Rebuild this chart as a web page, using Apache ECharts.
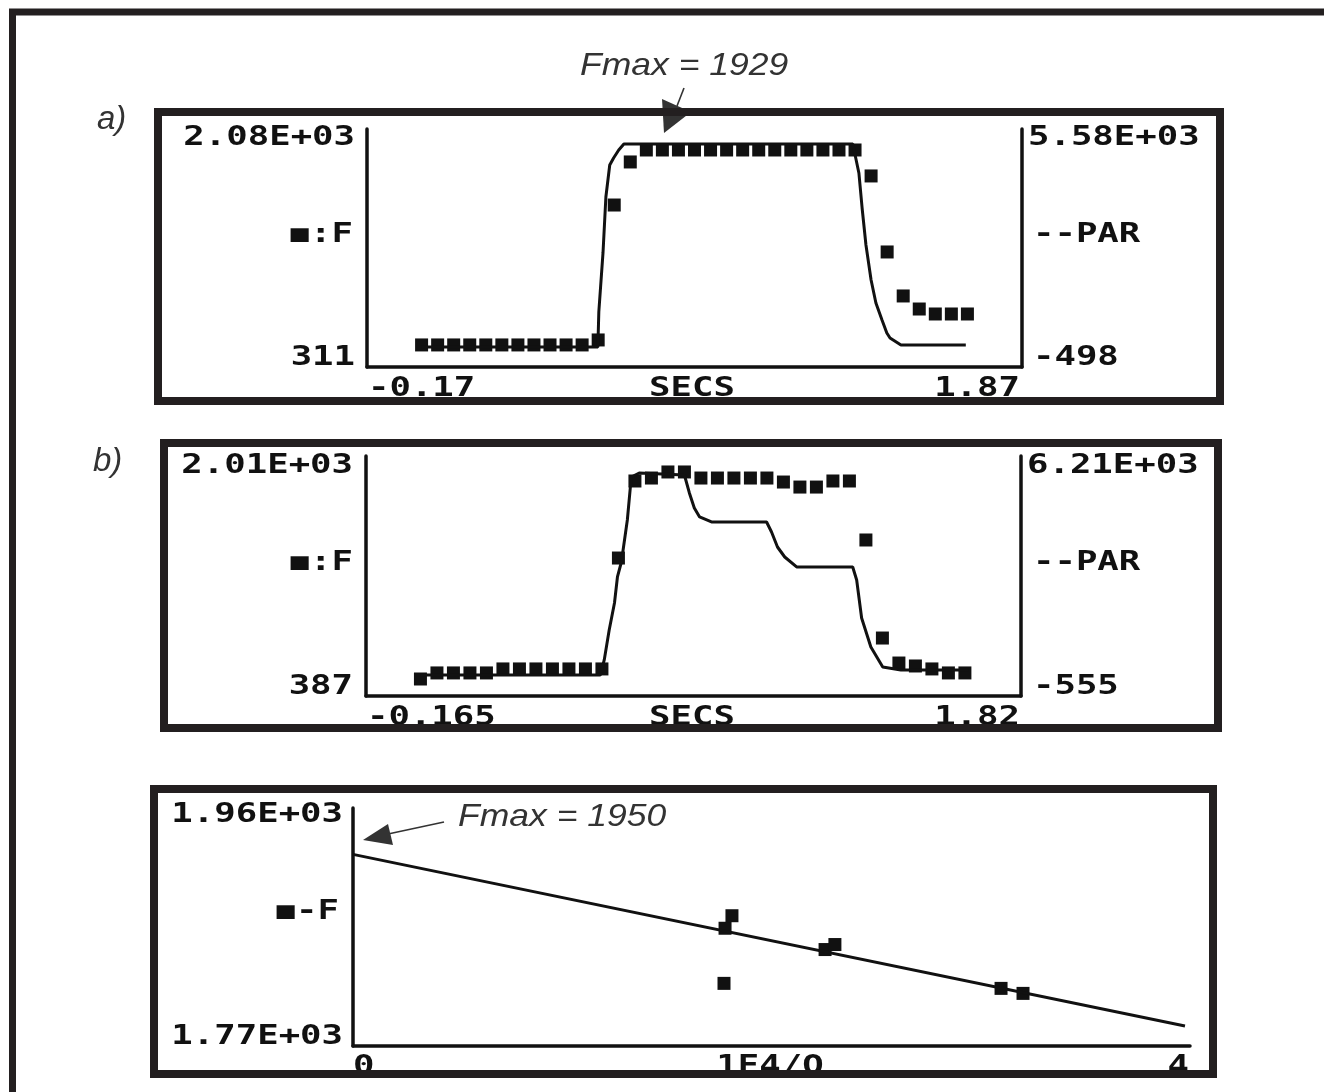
<!DOCTYPE html>
<html>
<head>
<meta charset="utf-8">
<script src="https://cdn.jsdelivr.net/npm/echarts@6/dist/echarts.min.js"></script>
<style>
  html, body { margin: 0; padding: 0; background: #fff; }
  #chart { width: 1324px; height: 1092px; }
</style>
</head>
<body>
<div id="chart"></div>
<script>
// a) F samples (squares) and PAR trace (line), time in seconds
const aTimes = [0, 0.05, 0.1, 0.15, 0.2, 0.25, 0.3, 0.35, 0.4, 0.45, 0.5, 0.55, 0.6, 0.65,
  0.7, 0.75, 0.8, 0.85, 0.9, 0.95, 1.0, 1.05, 1.1, 1.15, 1.2, 1.25, 1.3, 1.35,
  1.4, 1.45, 1.5, 1.55, 1.6, 1.65, 1.7];
const aF = [475, 475, 475, 475, 475, 475, 475, 475, 475, 475, 475, 512, 1515, 1835,
  1924, 1924, 1924, 1924, 1924, 1924, 1924, 1924, 1924, 1924, 1924, 1924, 1924, 1924,
  1731, 1166, 839, 742, 705, 705, 705];
const aParTimes = [0, 0.549, 0.552, 0.565, 0.574, 0.586, 0.598, 0.614, 0.63, 1.343, 1.362,
  1.372, 1.384, 1.4, 1.415, 1.434, 1.449, 1.459, 1.493, 1.695];
const aPar = [13, 13, 907, 2414, 3844, 4661, 4840, 5044, 5197, 5197, 4457,
  3563, 2618, 1724, 1137, 702, 370, 243, 64, 64];
const aXRange = [-0.17, 1.87];
const aFRange = [311, 2080];
const aParRange = [-498, 5580];
const aXLabels = ["-0.17", "SECS", "1.87"];
const aLeftLabels = ["2.08E+03", "\u25A0:F", "311"];
const aRightLabels = ["5.58E+03", "--PAR", "-498"];

// b)
const bTimes = [0, 0.05, 0.1, 0.15, 0.2, 0.25, 0.3, 0.35, 0.4, 0.45, 0.5, 0.55, 0.6, 0.65,
  0.7, 0.75, 0.8, 0.85, 0.9, 0.95, 1.0, 1.05, 1.1, 1.15, 1.2, 1.25, 1.3, 1.35,
  1.4, 1.45, 1.5, 1.55, 1.6, 1.65];
const bF = [502, 543, 543, 543, 543, 570, 570, 570, 570, 570, 570, 570, 1320, 1841,
  1861, 1902, 1902, 1861, 1861, 1861, 1861, 1861, 1834, 1800, 1800, 1841, 1841, 1442,
  779, 610, 590, 570, 543, 543];
const bParTimes = [0, 0.545, 0.557, 0.572, 0.588, 0.597, 0.609, 0.627, 0.639, 0.663, 0.8,
  0.815, 0.83, 0.846, 0.882, 1.049, 1.064, 1.082, 1.104, 1.14, 1.31, 1.322, 1.337,
  1.365, 1.401, 1.456, 1.66];
const bPar = [37, 37, 460, 1306, 2067, 2800, 3222, 4406, 5619, 5731, 5675,
  5168, 4745, 4491, 4350, 4350, 4068, 3645, 3363, 3082, 3082, 2715, 1644,
  826, 263, 178, 178];
const bXRange = [-0.165, 1.82];
const bFRange = [387, 2010];
const bParRange = [-555, 6210];
const bXLabels = ["-0.165", "SECS", "1.82"];
const bLeftLabels = ["2.01E+03", "\u25A0:F", "387"];
const bRightLabels = ["6.21E+03", "--PAR", "-555"];

// c) F against 1E4/Q with the fitted line
const cQ = [1.778, 1.811, 1.773, 2.256, 2.303, 3.097, 3.202];
const cF = [1864, 1874, 1820, 1847, 1851, 1816, 1812];
const cFitQ = [0, 3.976];
const cFitF = [1923, 1786];
const cXRange = [0, 4];
const cFRange = [1770, 1960];
const cXLabels = ["0", "1E4/Q", "4"];
const cLeftLabels = ["1.96E+03", "\u25A0-F", "1.77E+03"];

const notes = ["a)", "b)", "Fmax = 1929", "Fmax = 1950"];

const ink = "#111";
const frame = "#231f20";
const noteInk = "#333";

const zip = (xs, ys) => xs.map((x, i) => [x, ys[i]]);

const chart = echarts.init(document.getElementById("chart"), null, { renderer: "canvas" });

const axisBase = (min, max, extra) =>
  Object.assign(
    {
      type: "value",
      min: min,
      max: max,
      axisLine: { show: true, onZero: false, lineStyle: { color: ink, width: 3.5 } },
      axisTick: { show: false },
      axisLabel: { show: false },
      splitLine: { show: false },
    },
    extra || {}
  );

// pixel-display text; the legend square is set a bit smaller like on the instrument
const lcd = (text, x, y, align) => ({
  type: "text",
  x: x,
  y: y,
  scaleX: 1.32,
  z: 50,
  style: {
    text: text.replace("\u25A0", "{s|\u25A0}"),
    fill: ink,
    fontFamily: "DejaVu Sans Mono",
    fontWeight: "bold",
    fontSize: 27,
    align: align,
    verticalAlign: "middle",
    rich: {
      s: { fontFamily: "DejaVu Sans Mono", fontSize: 23, fill: ink, padding: [0, 1, 0, 0] },
    },
  },
});

const note = (text, x, y, size, sx) => ({
  type: "text",
  x: x,
  y: y,
  scaleX: sx,
  z: 60,
  style: {
    text: text,
    fill: noteInk,
    fontFamily: "Liberation Sans",
    fontStyle: "italic",
    fontSize: size,
    align: "left",
    verticalAlign: "middle",
  },
});

const box = (x, y, w, h, lw) => ({
  type: "rect",
  z: 100,
  shape: { x: x, y: y, width: w, height: h },
  style: { fill: null, stroke: frame, lineWidth: lw },
});

const arrow = (x1, y1, x2, y2, tip) => [
  {
    type: "line",
    z: 60,
    shape: { x1: x1, y1: y1, x2: x2, y2: y2 },
    style: { stroke: noteInk, lineWidth: 1.6 },
  },
  {
    type: "polygon",
    z: 60,
    shape: { points: tip },
    style: { fill: noteInk },
  },
];

const graphic = [
  box(12.5, 12, 1400, 1200, 7),
  box(158, 112, 1062, 289, 8),
  box(164, 443, 1054, 285, 8),
  box(154, 789, 1059, 285, 8),

  lcd(aLeftLabels[0], 355, 138, "right"),
  lcd(aLeftLabels[1], 353, 235, "right"),
  lcd(aLeftLabels[2], 355, 358, "right"),
  lcd(aRightLabels[0], 1028, 138, "left"),
  lcd(aRightLabels[1], 1033, 235, "left"),
  lcd(aRightLabels[2], 1033, 358, "left"),
  lcd(aXLabels[0], 368, 389, "left"),
  lcd(aXLabels[1], 692, 389, "center"),
  lcd(aXLabels[2], 1020, 389, "right"),

  lcd(bLeftLabels[0], 353, 466, "right"),
  lcd(bLeftLabels[1], 353, 563, "right"),
  lcd(bLeftLabels[2], 353, 687, "right"),
  lcd(bRightLabels[0], 1027, 466, "left"),
  lcd(bRightLabels[1], 1033, 563, "left"),
  lcd(bRightLabels[2], 1033, 687, "left"),
  lcd(bXLabels[0], 367, 718, "left"),
  lcd(bXLabels[1], 692, 718, "center"),
  lcd(bXLabels[2], 1020, 718, "right"),

  lcd(cLeftLabels[0], 343, 815, "right"),
  lcd(cLeftLabels[1], 339, 912, "right"),
  lcd(cLeftLabels[2], 343, 1037, "right"),
  lcd(cXLabels[0], 353, 1067, "left"),
  lcd(cXLabels[1], 770, 1067, "center"),
  lcd(cXLabels[2], 1189, 1067, "right"),

  note(notes[0], 97, 120, 33, 1),
  note(notes[1], 93, 462, 33, 1),
  note(notes[2], 580, 66, 32, 1.11),
  note(notes[3], 458, 817, 32, 1.11),
]
  .concat(arrow(684, 88, 677, 106, [[664, 133], [691, 112], [662, 99]]))
  .concat(arrow(444, 822, 388, 834, [[363, 840], [393, 845], [388, 824]]));

const squares = { symbol: "rect", symbolSize: 13, itemStyle: { color: ink, opacity: 1 } };
const trace = { showSymbol: false, lineStyle: { color: ink, width: 3 }, animation: false };

const option = {
  animation: false,
  backgroundColor: "#fff",
  grid: [
    { left: 367, top: 129, width: 655, height: 238 },
    { left: 366, top: 456, width: 655, height: 240 },
    { left: 353, top: 808, width: 837, height: 238 },
  ],
  xAxis: [
    axisBase(aXRange[0], aXRange[1], { gridIndex: 0 }),
    axisBase(bXRange[0], bXRange[1], { gridIndex: 1 }),
    axisBase(cXRange[0], cXRange[1], { gridIndex: 2 }),
  ],
  yAxis: [
    axisBase(aFRange[0], aFRange[1], { gridIndex: 0, position: "left" }),
    axisBase(aParRange[0], aParRange[1], { gridIndex: 0, position: "right" }),
    axisBase(bFRange[0], bFRange[1], { gridIndex: 1, position: "left" }),
    axisBase(bParRange[0], bParRange[1], { gridIndex: 1, position: "right" }),
    axisBase(cFRange[0], cFRange[1], { gridIndex: 2, position: "left" }),
  ],
  graphic: graphic,
  series: [
    Object.assign({ name: "PAR a", type: "line", xAxisIndex: 0, yAxisIndex: 1, data: zip(aParTimes, aPar) }, trace),
    Object.assign({ name: "F a", type: "scatter", xAxisIndex: 0, yAxisIndex: 0, data: zip(aTimes, aF) }, squares),
    Object.assign({ name: "PAR b", type: "line", xAxisIndex: 1, yAxisIndex: 3, data: zip(bParTimes, bPar) }, trace),
    Object.assign({ name: "F b", type: "scatter", xAxisIndex: 1, yAxisIndex: 2, data: zip(bTimes, bF) }, squares),
    Object.assign({ name: "fit c", type: "line", xAxisIndex: 2, yAxisIndex: 4, data: zip(cFitQ, cFitF) }, trace),
    Object.assign({ name: "F c", type: "scatter", xAxisIndex: 2, yAxisIndex: 4, data: zip(cQ, cF) }, squares),
  ],
};

chart.setOption(option);
</script>
</body>
</html>
